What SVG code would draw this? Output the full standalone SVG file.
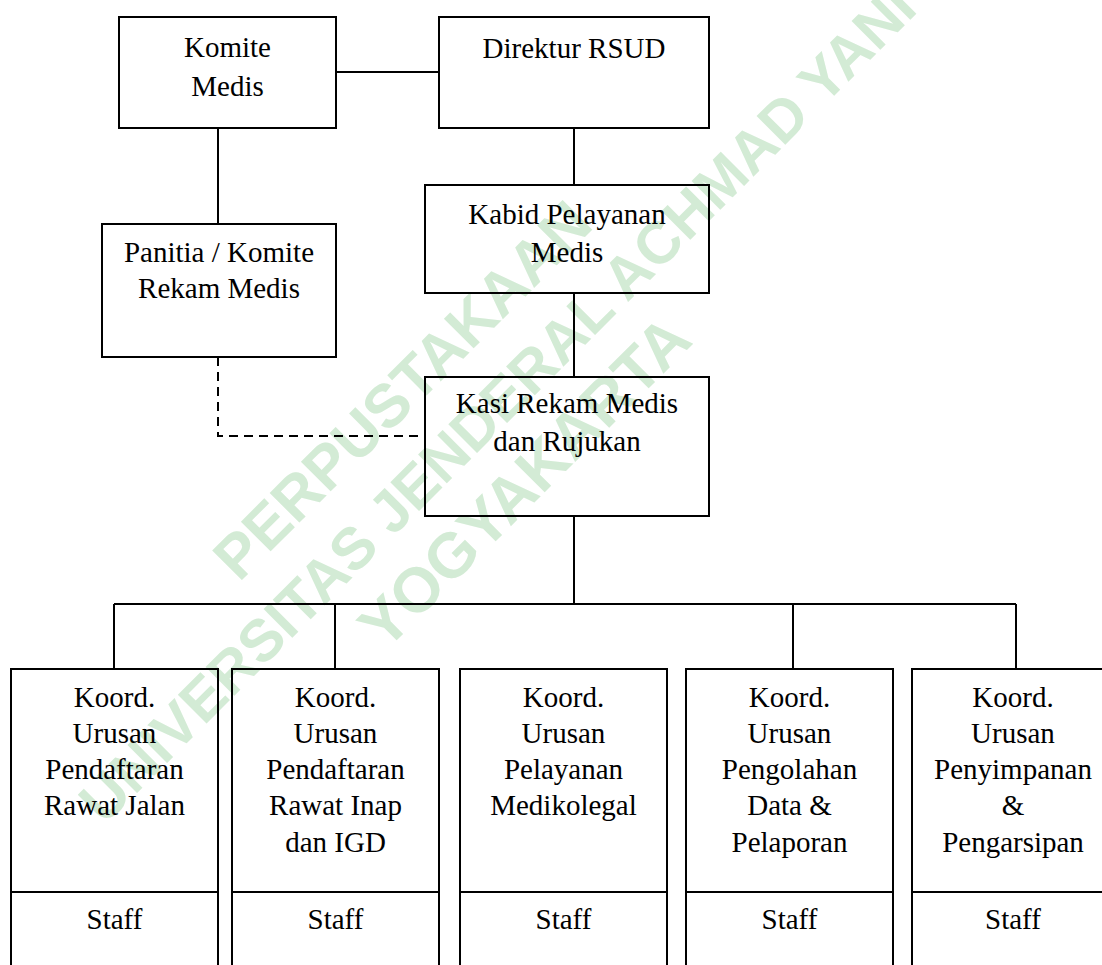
<svg xmlns="http://www.w3.org/2000/svg" width="1102" height="965" viewBox="0 0 1102 965">
<style>
.box{fill:none;stroke:#000;stroke-width:2}
.ln{fill:none;stroke:#000;stroke-width:2}
.dash{fill:none;stroke:#000;stroke-width:2;stroke-dasharray:9 6}
.t{font-family:"Liberation Serif","Times New Roman",Tinos,"DejaVu Serif",serif;font-size:29px;fill:#000;text-anchor:middle}
.wm{font-family:"Liberation Sans",Arial,sans-serif;font-weight:bold;fill:#d3ebd5}
</style>
<rect width="1102" height="965" fill="#fff"/>
<g id="watermark">
<text class="wm" font-size="61" transform="translate(239,583) rotate(-45)">PERPUSTAKAAN</text>
<text class="wm" font-size="59" transform="translate(104,826) rotate(-45)">UNIVERSITAS JENDERAL ACHMAD YANI</text>
<text class="wm" font-size="63" transform="translate(385,652) rotate(-45)">YOGYAKARTA</text>
</g>
<g id="connectors">
<path class="ln" d="M336 72 H439"/>
<path class="ln" d="M218 128 V224"/>
<path class="ln" d="M574 128 V185"/>
<path class="ln" d="M574 293 V377"/>
<path class="dash" d="M218 357 V436 H425"/>
<path class="ln" d="M574 516 V604"/>
<path class="ln" d="M114 604 H1016"/>
<path class="ln" d="M114 604 V669"/>
<path class="ln" d="M335 604 V669"/>
<path class="ln" d="M793 604 V669"/>
<path class="ln" d="M1016 604 V669"/>
</g>
<g id="komite-medis">
<rect class="box" x="119" y="17" width="217" height="111"/>
<text class="t" x="227.5" y="57">Komite</text>
<text class="t" x="227.5" y="96">Medis</text>
</g>
<g id="direktur">
<rect class="box" x="439" y="17" width="270" height="111"/>
<text class="t" x="574" y="58">Direktur RSUD</text>
</g>
<g id="panitia">
<rect class="box" x="102" y="224" width="234" height="133"/>
<text class="t" x="219" y="262">Panitia / Komite</text>
<text class="t" x="219" y="298">Rekam Medis</text>
</g>
<g id="kabid">
<rect class="box" x="425" y="185" width="284" height="108"/>
<text class="t" x="567" y="224">Kabid Pelayanan</text>
<text class="t" x="567" y="262">Medis</text>
</g>
<g id="kasi">
<rect class="box" x="425" y="377" width="284" height="139"/>
<text class="t" x="567" y="413">Kasi Rekam Medis</text>
<text class="t" x="567" y="451">dan Rujukan</text>
</g>
<g id="koord-rawat-jalan">
<rect class="box" x="11" y="669" width="207" height="320"/>
<path class="ln" d="M11 892 H218"/>
<text class="t" x="114.5" y="707">Koord.</text>
<text class="t" x="114.5" y="743">Urusan</text>
<text class="t" x="114.5" y="779">Pendaftaran</text>
<text class="t" x="114.5" y="815">Rawat Jalan</text>
<text class="t" x="114.5" y="929">Staff</text>
</g>
<g id="koord-rawat-inap">
<rect class="box" x="232" y="669" width="207" height="320"/>
<path class="ln" d="M232 892 H439"/>
<text class="t" x="335.5" y="707">Koord.</text>
<text class="t" x="335.5" y="743">Urusan</text>
<text class="t" x="335.5" y="779">Pendaftaran</text>
<text class="t" x="335.5" y="815">Rawat Inap</text>
<text class="t" x="335.5" y="852">dan IGD</text>
<text class="t" x="335.5" y="929">Staff</text>
</g>
<g id="koord-medikolegal">
<rect class="box" x="460" y="669" width="207" height="320"/>
<path class="ln" d="M460 892 H667"/>
<text class="t" x="563.5" y="707">Koord.</text>
<text class="t" x="563.5" y="743">Urusan</text>
<text class="t" x="563.5" y="779">Pelayanan</text>
<text class="t" x="563.5" y="815">Medikolegal</text>
<text class="t" x="563.5" y="929">Staff</text>
</g>
<g id="koord-pengolahan">
<rect class="box" x="686" y="669" width="207" height="320"/>
<path class="ln" d="M686 892 H893"/>
<text class="t" x="789.5" y="707">Koord.</text>
<text class="t" x="789.5" y="743">Urusan</text>
<text class="t" x="789.5" y="779">Pengolahan</text>
<text class="t" x="789.5" y="815">Data &amp;</text>
<text class="t" x="789.5" y="852">Pelaporan</text>
<text class="t" x="789.5" y="929">Staff</text>
</g>
<g id="koord-penyimpanan">
<rect class="box" x="912" y="669" width="210" height="320"/>
<path class="ln" d="M912 892 H1122"/>
<text class="t" x="1013" y="707">Koord.</text>
<text class="t" x="1013" y="743">Urusan</text>
<text class="t" x="1013" y="779">Penyimpanan</text>
<text class="t" x="1013" y="815">&amp;</text>
<text class="t" x="1013" y="852">Pengarsipan</text>
<text class="t" x="1013" y="929">Staff</text>
</g>
</svg>
